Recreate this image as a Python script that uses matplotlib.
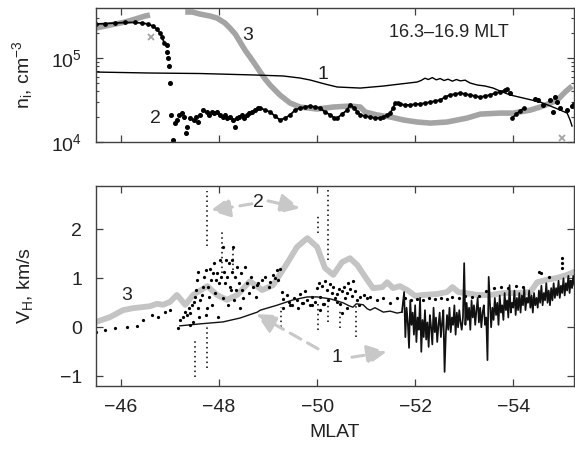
import matplotlib
matplotlib.use("Agg")
import matplotlib.pyplot as plt
import numpy as np
from matplotlib.ticker import FixedLocator, LogLocator, NullFormatter

plt.rcParams["font.family"] = ["Liberation Sans", "DejaVu Sans"]
plt.rcParams["mathtext.default"] = "regular"

NI_UNIT = 1e4  # density values below are in units of 1e4 cm^-3

# ---- upper panel: ion density ----
# 1: thin line
n1_mlat = [-45.49, -46.59, -47.61, -48.73, -49.31, -49.65, -49.86, -50.16, -50.41, -50.88,
           -51.35, -51.69, -52.04, -52.12, -52.20, -52.27, -52.35, -52.43, -52.51, -52.59,
           -52.67, -52.76, -52.84, -52.92, -53.02, -53.12, -53.27, -53.43, -53.59, -53.73,
           -53.94, -54.29, -54.55, -54.76, -54.96, -55.10, -55.16, -55.20]
n1_val = [6.81, 6.63, 6.54, 6.28, 6.11, 5.78, 5.47, 4.90, 4.52, 4.39,
          4.64, 4.90, 5.18, 5.40, 5.75, 5.55, 5.85, 5.50, 5.70, 5.40,
          5.60, 5.30, 5.55, 5.35, 5.45, 5.04, 4.77, 4.64, 4.39, 4.05,
          3.63, 3.25, 2.99, 2.68, 2.40, 2.21, 1.83, 1.55]

# 2: black dots
n2_left_mlat = [-45.49, -45.67, -45.88, -46.08, -46.29, -46.43, -46.55, -46.65, -46.73, -46.80,
                -46.84, -46.88]
n2_left_val = [25.4, 25.7, 26.1, 26.5, 26.5, 26.1, 25.4, 24.0, 22.1, 19.8, 17.8, 15.1]
n2_drop_mlat = [-46.93, -46.94, -46.96, -46.97, -47.00, -47.02, -47.06]
n2_drop_val = [14.4, 11.8, 10.0, 8.03, 5.04, 2.10, 1.06]
n2_mid_mlat = [-47.10, -47.15, -47.19, -47.24, -47.29, -47.34, -47.33, -47.41, -47.48, -47.53,
               -47.56, -47.61, -47.68, -47.75, -47.80, -47.85, -47.90, -47.95, -48.02, -48.08,
               -48.12, -48.17, -48.22, -48.29, -48.33, -48.36, -48.41, -48.46, -48.51, -48.57,
               -48.62, -48.67, -48.73, -48.80]
n2_mid_val = [1.68, 1.83, 2.10, 2.19, 2.00, 1.52, 1.27, 1.92, 1.83, 2.00,
              1.74, 2.10, 2.40, 2.30, 2.10, 2.30, 2.19, 2.30, 2.10, 2.00,
              2.10, 1.92, 2.00, 1.83, 1.52, 1.92, 2.00, 2.10, 1.92, 2.10,
              2.19, 2.30, 2.40, 2.52]
n2_main_mlat = [-48.84, -48.94, -49.04, -49.14, -49.24, -49.35, -49.45, -49.55, -49.65, -49.76,
                -49.86, -49.96, -50.06, -50.16, -50.27, -50.35, -50.41, -50.51, -50.61, -50.67,
                -50.76, -50.82, -50.88, -50.98, -51.08, -51.18, -51.29, -51.35, -51.43, -51.49,
                -51.55, -51.59, -51.65, -51.69, -51.80, -51.90, -52.00, -52.10, -52.20, -52.31,
                -52.41, -52.51, -52.61, -52.71, -52.82, -52.92, -53.02, -53.12, -53.22, -53.33,
                -53.43, -53.53, -53.63, -53.73, -53.84, -53.88]
n2_main_val = [2.54, 2.40, 2.28, 2.04, 1.83, 1.93, 2.10, 2.40, 2.54, 2.61,
               2.68, 2.61, 2.54, 2.28, 2.10, 1.93, 1.93, 2.15, 2.40, 2.76,
               2.54, 2.28, 2.10, 2.04, 1.99, 1.93, 1.93, 1.99, 2.10, 2.21,
               2.54, 2.91, 2.91, 2.83, 2.76, 2.76, 2.83, 2.83, 2.91, 2.99,
               3.08, 3.16, 3.43, 3.63, 3.73, 3.83, 3.73, 3.63, 3.53, 3.43,
               3.53, 3.63, 3.83, 3.94, 4.16, 4.27]
n2_right_mlat = [-53.98, -54.06, -54.14, -54.22]
n2_right_val = [1.93, 2.15, 2.34, 2.54]
n2_scat_mlat = [-53.94, -54.45, -54.51, -54.61, -54.76, -54.82, -54.86, -54.90, -54.96, -55.10,
                -55.20, -55.24]
n2_scat_val = [3.83, 3.25, 3.16, 2.76, 3.16, 2.28, 3.43, 2.99, 2.54, 2.40, 2.68, 2.83]

# 3: grey crosses
n3a_mlat = [-45.49, -45.67, -45.88, -46.08, -46.29, -46.49, -46.59]
n3a_val = [22.8, 24.0, 25.4, 26.8, 29.1, 31.6, 32.5]
n3b_mlat = [-47.31, -47.45, -47.61, -47.82, -47.96, -48.12, -48.22, -48.33, -48.43, -48.53,
            -48.63, -48.73, -48.84, -48.94, -49.04, -49.14, -49.24, -49.45, -49.65, -50.00,
            -50.33, -50.67, -50.88, -50.98, -51.22, -51.49, -51.76, -52.04, -52.31, -52.65,
            -53.06, -53.33, -53.73, -54.00, -54.35, -54.55, -54.76, -54.90, -55.06, -55.20]
n3b_val = [35.3, 35.3, 33.4, 31.6, 29.9, 26.1, 22.8, 19.3, 15.5, 12.4,
           10.3, 8.48, 6.81, 5.62, 4.77, 4.16, 3.63, 2.91, 2.61, 2.47,
           2.61, 2.68, 2.61, 2.28, 2.10, 1.99, 1.83, 1.73, 1.68, 1.73,
           1.93, 2.15, 2.21, 2.21, 2.40, 2.61, 2.91, 3.16, 3.94, 4.64]
n3_iso_mlat = [-46.61, -55.00]
n3_iso_val = [17.8, 1.12]

# ---- lower panel: horizontal velocity, km/s ----
v3_mlat = [-45.49, -45.78, -46.04, -46.24, -46.59, -46.73, -46.86, -47.00, -47.14, -47.31,
           -47.47, -47.76, -47.96, -48.16, -48.37, -48.63, -48.88, -49.10, -49.39, -49.59,
           -49.80, -50.00, -50.16, -50.33, -50.51, -50.67, -50.82, -50.98, -51.14, -51.33,
           -51.43, -51.55, -51.69, -51.84, -52.00, -52.16, -52.45, -52.65, -52.76, -52.88,
           -53.02, -53.27, -53.53, -53.80, -54.08, -54.35, -54.49, -54.69, -54.90, -55.10, -55.24]
v3_val = [0.11, 0.21, 0.35, 0.39, 0.43, 0.48, 0.46, 0.52, 0.66, 0.46,
          0.66, 0.84, 0.66, 0.56, 0.66, 0.94, 0.76, 0.86, 1.31, 1.64,
          1.82, 1.64, 1.21, 1.07, 1.33, 1.41, 1.27, 1.03, 0.80, 0.82,
          0.92, 0.80, 0.84, 0.76, 0.64, 0.66, 0.68, 0.72, 0.82, 0.72,
          0.70, 0.66, 0.66, 0.70, 0.70, 0.72, 0.92, 0.97, 1.01, 1.07, 1.13]

v1_smooth_mlat = [-47.20, -47.61, -48.08, -48.43, -48.78, -48.84, -49.18, -49.51, -49.80, -50.00,
                  -50.27, -50.53, -50.65, -50.73, -50.80, -50.94, -51.02, -51.08, -51.18, -51.35,
                  -51.49, -51.63, -51.73]
v1_smooth_val = [0.03, 0.07, 0.11, 0.19, 0.31, 0.35, 0.45, 0.56, 0.62, 0.62,
                 0.58, 0.50, 0.44, 0.41, 0.48, 0.46, 0.38, 0.35, 0.40, 0.31,
                 0.33, 0.29, 0.31]
v1_noisy_mlat = [-51.775, -51.800, -51.825, -51.850, -51.875, -51.900, -51.925, -51.950, -51.975,
                 -52.000, -52.025, -52.050, -52.075, -52.100, -52.125, -52.150, -52.175,
                 -52.200, -52.225, -52.250, -52.275, -52.300, -52.325, -52.350, -52.375,
                 -52.400, -52.425, -52.450, -52.475,
                 -52.500, -52.525, -52.550, -52.575, -52.600, -52.625, -52.650, -52.675,
                 -52.700, -52.725, -52.750, -52.775, -52.800, -52.825, -52.850, -52.875,
                 -52.900, -52.925,
                 -52.950, -52.975, -53.000, -53.025,
                 -53.050, -53.075, -53.100, -53.125, -53.150, -53.175, -53.200, -53.225,
                 -53.250, -53.275, -53.300, -53.325, -53.350, -53.375,
                 -53.400, -53.425, -53.450, -53.475, -53.500, -53.525, -53.550, -53.575,
                 -53.600, -53.625, -53.650, -53.675, -53.700, -53.725, -53.750, -53.775,
                 -53.800, -53.825, -53.850, -53.875, -53.900, -53.925, -53.950, -53.975,
                 -54.000, -54.025, -54.050, -54.075, -54.100, -54.125, -54.150, -54.175,
                 -54.200, -54.225, -54.250, -54.275, -54.300, -54.325, -54.350, -54.375,
                 -54.400, -54.425, -54.450, -54.475,
                 -54.500, -54.525, -54.550, -54.575, -54.600, -54.625, -54.650, -54.675,
                 -54.700, -54.725, -54.750, -54.775,
                 -54.800, -54.825, -54.850, -54.875, -54.900, -54.925, -54.950, -54.975,
                 -55.000, -55.025, -55.050, -55.075, -55.100, -55.125, -55.150, -55.175,
                 -55.200, -55.225, -55.250, -55.275]
v1_noisy_val = [0.72, -0.20, 0.40, 0.10, -0.42, 0.55, 0.05, 0.30, -0.15,
                0.45, -0.30, 0.20, -0.05, 0.60, -0.50, 0.15, -0.20,
                0.35, -0.25, 0.10, -0.40, 0.25, 0.00, -0.35, 0.40,
                -0.10, 0.20, -0.30, 0.05,
                0.30, -0.20, 0.10, 0.35, -0.91, -0.15, 0.25, -0.05,
                0.40, -0.10, 0.20, 0.05, 0.45, -0.15, 0.30, 0.00,
                0.35, 0.10,
                -0.05, 0.20, 1.31, 0.05,
                0.50, 0.15, 0.40, -0.05, 0.55, 0.20, 0.45, 0.05,
                0.35, 0.60, 0.10, 0.40, 0.00, 0.30,
                0.45, 0.05, 0.20, -0.67, 1.03, 0.50, 0.00, 0.40,
                0.15, 0.60, 0.25, 0.50, 0.05, 0.65, 0.30, 0.45,
                0.15, 0.70, 0.35, 0.55, 0.20, 0.86, 0.30, 0.50,
                0.40, 0.75, 0.25, 0.60, 0.35, 0.70, 0.30, 0.65,
                0.45, 0.80, 0.35, 0.60, 0.50, 0.75, 0.40, 0.65,
                0.30, 0.70, 0.45, 0.60,
                0.40, 0.75, 0.50, 0.85, 0.45, 0.70, 0.55, 0.90,
                0.50, 0.75, 0.45, 0.80,
                0.55, 0.90, 0.60, 0.80, 0.65, 0.95, 0.60, 0.85,
                0.70, 1.00, 0.65, 0.90, 0.75, 1.05, 0.70, 0.95,
                0.80, 1.05, 0.85, 0.95]

# 2: scattered dots
v2_mlat = [-45.49, -45.67, -45.88, -46.12, -46.33, -46.45, -46.63, -46.76, -46.90, -47.00,
           -47.16, -47.20, -47.27, -47.31, -47.35, -47.38, -47.40, -47.41, -47.45, -47.46,
           -47.48, -47.51, -47.53, -47.55, -47.56, -47.58, -47.60, -47.61, -47.65, -47.67,
           -47.69, -47.73, -47.73, -47.75, -47.78, -47.80, -47.82, -47.84, -47.86, -47.88,
           -47.90, -47.92, -47.94, -47.96, -47.98, -48.00, -48.02, -48.04, -48.07, -48.08,
           -48.10, -48.12, -48.14, -48.16, -48.18, -48.20, -48.22, -48.24, -48.26, -48.27,
           -48.29, -48.31, -48.33, -48.35, -48.37, -48.41, -48.43, -48.45, -48.47, -48.49,
           -48.53, -48.57, -48.61, -48.65, -48.70, -48.76, -48.80,
           -48.77, -48.87, -48.94, -49.01, -49.04, -49.11, -49.14, -49.18, -49.21, -49.25,
           -49.28, -49.31, -49.38, -49.42, -49.48, -49.52, -49.59, -49.62, -49.65, -49.72,
           -49.76, -49.79, -49.86, -49.89, -49.96, -49.99, -50.03, -50.06, -50.10, -50.13,
           -50.16, -50.20, -50.23, -50.27, -50.30, -50.33, -50.37, -50.40, -50.44, -50.47,
           -50.50, -50.54, -50.57, -50.61, -50.64, -50.67, -50.71, -50.74, -50.78, -50.81,
           -50.88, -50.95, -51.01, -51.08, -51.22, -51.35, -51.49, -51.63,
           -49.30, -49.45, -49.70, -49.90, -50.05, -50.15, -50.40, -50.50, -50.60, -50.85,
           -51.80, -51.92, -52.04, -52.16, -52.28, -52.40, -52.52, -52.64, -52.76, -52.90,
           -53.02, -53.16, -53.30, -53.45, -53.60, -53.75, -53.90, -54.05, -54.20, -54.52,
           -54.56, -54.72, -55.00, -55.00, -55.00, -55.08, -55.15]
v2_val = [-0.10, -0.05, -0.01, 0.01, 0.03, 0.15, 0.25, 0.21, 0.31, 0.35,
          -0.02, 0.15, 0.22, 0.32, 0.25, 0.39, 0.05, 0.29, 0.46, 0.10,
          0.52, 0.62, 0.76, 0.97, 1.13, 0.39, 0.22, 0.56, 0.66, 0.83,
          1.03, 1.17, 0.25, 0.39, 0.83, 0.62, 1.20, 0.97, 0.46, 1.10,
          1.31, 0.69, 0.97, 1.10, 0.22, 0.90, 1.37, 1.03, 1.64, 0.59,
          1.13, 0.90, 1.37, 1.03, 0.46, 1.31, 0.83, 0.76, 1.13, 1.37,
          1.64, 0.56, 1.03, 0.76, 1.24, 0.90, 0.39, 1.10, 0.76, 0.59,
          1.24, 0.90, 0.69, 1.03, 0.83, 0.62, 0.90,
          0.86, 0.97, 1.03, 0.83, 0.93, 1.07, 1.00, 1.17, 0.97, 1.20,
          0.72, 0.58, 0.65, 0.52, 0.46, 0.60, 0.55, 0.40, 0.68, 0.50,
          0.75, 0.55, 0.45, 0.62, 0.52, 0.80, 0.90, 0.62, 0.85, 0.48,
          0.95, 0.76, 0.55, 0.88, 0.70, 0.82, 0.60, 0.68, 0.78, 0.48,
          0.75, 0.82, 0.60, 0.70, 0.90, 0.78, 0.64, 0.95, 0.74, 0.55,
          0.62, 0.66, 0.59, 0.62, 0.56, 0.59, 0.49, 0.59,
          0.40, 0.45, 0.50, 0.45, 0.35, 0.48, 0.52, 0.30, 0.40, 0.45,
          0.60, 0.56, 0.58, 0.55, 0.60, 0.57, 0.60, 0.58, 0.62, 0.60,
          0.63, 0.61, 0.64, 0.75, 0.80, 0.82, 0.80, 0.84, 0.82, 1.13,
          1.10, 1.02, 1.41, 1.31, 1.21, 0.86, 0.95]

# vertical dotted streaks of curve 2: position, lower and upper end
streak_mlat = [-47.51, -47.76, -47.76, -48.06, -48.29, -49.27, -50.02, -50.02, -50.22, -50.22,
               -50.47, -50.80]
streak_lo = [-1.01, 1.65, -0.83, 1.10, 1.17, 0.00, 1.92, -0.06, 1.37, 0.10, -0.02, -0.20]
streak_hi = [-0.26, 2.78, 0.00, 1.95, 1.64, 0.42, 2.29, 0.49, 2.80, 0.50, 0.35, 0.50]

xticks = [-46, -48, -50, -52, -54]
vticks = [-1, 0, 1, 2]

FRAME = "#404040"
GREY3 = "#a4a4a4"
GREY_V = "#c4c4c4"
ARROW = "#c8c8c8"
TXT = "#222222"
FS = 14


def style(ax):
    for s in ax.spines.values():
        s.set_color(FRAME)
        s.set_linewidth(1.0)
    ax.tick_params(which="both", direction="in", top=True, right=True,
                   color=FRAME, labelsize=FS, labelcolor=TXT)
    ax.tick_params(which="major", length=5, width=0.9)
    ax.tick_params(which="minor", length=2.5, width=0.8)
    ax.tick_params(axis="x", pad=9)
    ax.tick_params(axis="y", pad=10)
    ax.set_xlim(-45.49, -55.23)
    ax.xaxis.set_major_locator(FixedLocator(xticks))


def arrow(ax, tail, tip):
    ax.annotate("", xy=tip, xytext=tail,
                arrowprops=dict(arrowstyle="-|>,head_length=0.6,head_width=0.3",
                                mutation_scale=20, color=ARROW, lw=2.2,
                                linestyle=(0, (4, 2.5)), shrinkA=0, shrinkB=0))


fig = plt.figure(figsize=(5.75, 4.53), dpi=100)
ax1 = fig.add_axes([0.167, 0.6865, 0.8304, 0.2958])
ax2 = fig.add_axes([0.167, 0.1479, 0.8304, 0.4415])

# upper panel
sc = NI_UNIT
ax1.plot(n3a_mlat, np.array(n3a_val) * sc, color=GREY3, lw=4, solid_capstyle="butt")
ax1.plot(n3b_mlat, np.array(n3b_val) * sc, color=GREY3, lw=4, solid_capstyle="butt")
ax1.plot(n3_iso_mlat, np.array(n3_iso_val) * sc, ls="none", marker="x", ms=4.5,
         mew=1.3, color=GREY3)
for xs, ys in [(n2_left_mlat, n2_left_val), (n2_main_mlat, n2_main_val),
               (n2_right_mlat, n2_right_val)]:
    ax1.plot(xs, np.array(ys) * sc, color="black", lw=1.3, marker="o", ms=2.4)
ax1.plot(n2_drop_mlat + n2_mid_mlat + n2_scat_mlat,
         np.array(n2_drop_val + n2_mid_val + n2_scat_val) * sc,
         ls="none", marker="o", ms=2.6, color="black")
ax1.plot(n1_mlat, np.array(n1_val) * sc, color="black", lw=1.0)

ax1.set_yscale("log")
ax1.set_ylim(1e4, 3.94e5)
ax1.yaxis.set_major_locator(LogLocator(base=10))
ax1.yaxis.set_minor_locator(LogLocator(base=10, subs=np.arange(2, 10)))
ax1.yaxis.set_minor_formatter(NullFormatter())
style(ax1)
ax1.tick_params(labelbottom=False)
ax1.set_ylabel(r"n$_i$, cm$^{-3}$", fontsize=FS, color=TXT)
ax1.yaxis.set_label_coords(-0.128, 0.5)
ax1.text(0.738, 0.82, "16.3–16.9 MLT", transform=ax1.transAxes,
         ha="center", va="center", fontsize=13, color=TXT)
ax1.text(-50.12, 6.3e4, "1", fontsize=FS, ha="center", va="center", color=TXT)
ax1.text(-46.71, 1.93e4, "2", fontsize=FS, ha="center", va="center", color=TXT)
ax1.text(-48.59, 1.83e5, "3", fontsize=FS, ha="center", va="center", color=TXT)

# lower panel
ax2.plot(v3_mlat, v3_val, color=GREY_V, lw=4.2, solid_joinstyle="round", zorder=1)
ax2.vlines(streak_mlat, streak_lo, streak_hi, colors="black", lw=1.1,
           linestyles=[(0, (1, 2.2))], zorder=2)
ax2.plot(v2_mlat, v2_val, ls="none", marker="o", ms=1.3, color="black", zorder=2)
ax2.plot(v1_smooth_mlat, v1_smooth_val, color="#111111", lw=1.0, zorder=3)
ax2.plot(v1_smooth_mlat[-1:] + v1_noisy_mlat, v1_smooth_val[-1:] + v1_noisy_val,
         color="#111111", lw=1.25, zorder=3)

ax2.set_ylim(-1.198, 2.884)
ax2.yaxis.set_major_locator(FixedLocator(vticks))
style(ax2)
ax2.set_ylabel(r"V$_H$, km/s", fontsize=FS, color=TXT)
ax2.yaxis.set_label_coords(-0.128, 0.5)
ax2.set_xlabel("MLAT", fontsize=FS, labelpad=6, color=TXT)

ax2.text(-46.12, 0.64, "3", fontsize=FS, ha="center", va="center", color=TXT)
ax2.text(-48.80, 2.54, "2", fontsize=FS, ha="center", va="center", color=TXT)
ax2.text(-50.41, -0.62, "1", fontsize=FS, ha="center", va="center", color=TXT)
arrow(ax2, (-48.67, 2.52), (-47.82, 2.38))
arrow(ax2, (-49.00, 2.58), (-49.65, 2.43))
arrow(ax2, (-50.02, -0.44), (-48.76, 0.27))
arrow(ax2, (-50.71, -0.61), (-51.42, -0.50))

fig.savefig("out.png", dpi=100)
